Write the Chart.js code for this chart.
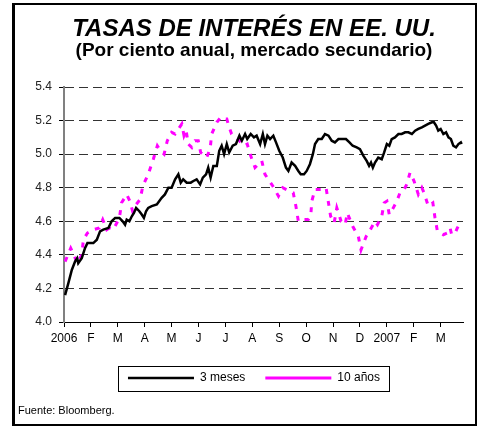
<!DOCTYPE html>
<html>
<head>
<meta charset="utf-8">
<script src="https://cdn.jsdelivr.net/npm/chart.js@4/dist/chart.umd.min.js"></script>
<style>
  body { margin: 0; background: #fff; }
  #marco { position: absolute; left: 12px; top: 3px; width: 460px; height: 419px; border: 2px solid #000; border-left-width: 3px; }
  #fuente { position: absolute; left: 18px; top: 404px; font: 11px "Liberation Sans", Arial, sans-serif; color: #000; }
  canvas { position: absolute; left: 0; top: 0; }
</style>
</head>
<body>
<div id="marco"></div>
<canvas id="grafico" width="485" height="426"></canvas>
<div id="fuente">Fuente: Bloomberg.</div>
<script>
// etiquetas del eje x (una por mes, desde enero 2006)
const meses = ['2006','F','M','A','M','J','J','A','S','O','N','D','2007','F','M'];

// 3 meses: posicion en meses desde 1-ene-2006, y tasa
const x3m = [0.04,0.16,0.29,0.41,0.49,0.53,0.66,0.78,0.87,0.97,1.09,1.22,1.34,1.46,1.65,1.77,1.90,2.06,2.18,2.27,2.33,2.43,2.52,2.60,2.68,2.80,2.89,2.97,3.05,3.13,3.26,3.45,3.63,3.75,3.88,4.00,4.13,4.25,4.34,4.43,4.56,4.71,4.81,4.93,5.06,5.16,5.28,5.36,5.45,5.55,5.68,5.77,5.86,5.95,6.05,6.14,6.27,6.39,6.52,6.61,6.73,6.81,6.94,7.06,7.16,7.29,7.39,7.47,7.56,7.66,7.78,7.88,8.00,8.13,8.25,8.34,8.46,8.59,8.71,8.80,8.92,9.02,9.14,9.25,9.33,9.45,9.58,9.70,9.83,9.95,10.07,10.20,10.32,10.48,10.61,10.73,10.88,11.00,11.13,11.25,11.34,11.41,11.48,11.56,11.68,11.81,11.90,12.00,12.09,12.18,12.30,12.43,12.55,12.68,12.80,12.93,13.05,13.17,13.30,13.42,13.54,13.67,13.75,13.83,13.91,14.00,14.10,14.20,14.29,14.38,14.47,14.57,14.66,14.75,14.78];
const tasa3m = [4.16,4.23,4.31,4.36,4.38,4.35,4.38,4.44,4.47,4.47,4.47,4.49,4.54,4.55,4.56,4.60,4.62,4.62,4.60,4.58,4.61,4.60,4.63,4.65,4.68,4.66,4.64,4.62,4.66,4.68,4.69,4.70,4.74,4.76,4.80,4.80,4.85,4.88,4.83,4.85,4.83,4.83,4.84,4.85,4.82,4.86,4.88,4.92,4.86,4.93,4.93,5.02,5.05,5.00,5.06,5.01,5.05,5.06,5.11,5.08,5.12,5.09,5.12,5.10,5.11,5.06,5.12,5.06,5.11,5.09,5.11,5.07,5.02,4.98,4.92,4.90,4.95,4.93,4.90,4.88,4.88,4.90,4.94,5.00,5.06,5.09,5.09,5.12,5.11,5.08,5.07,5.09,5.09,5.09,5.07,5.05,5.04,5.03,4.99,4.96,4.93,4.95,4.92,4.95,4.98,4.97,5.01,5.06,5.05,5.09,5.10,5.12,5.12,5.13,5.13,5.12,5.14,5.15,5.16,5.17,5.18,5.19,5.19,5.17,5.14,5.15,5.12,5.13,5.10,5.09,5.05,5.04,5.06,5.07,5.06];

// 10 años
const x10a = [0.04,0.25,0.37,0.49,0.66,0.72,0.87,1.09,1.31,1.44,1.59,1.68,1.83,2.06,2.14,2.33,2.45,2.55,2.68,2.83,2.93,3.13,3.32,3.47,3.59,3.72,3.84,4.00,4.13,4.38,4.46,4.54,4.62,4.75,4.87,4.99,5.08,5.30,5.43,5.49,5.68,5.83,5.95,6.05,6.14,6.23,6.52,6.67,6.81,6.94,7.10,7.29,7.35,7.47,7.76,7.97,8.13,8.38,8.52,8.62,8.71,8.84,9.08,9.17,9.21,9.33,9.58,9.74,9.83,9.91,10.04,10.14,10.30,10.45,10.53,10.73,10.94,11.04,11.23,11.35,11.56,11.65,11.81,11.90,12.00,12.09,12.24,12.37,12.49,12.61,12.74,12.86,13.01,13.17,13.30,13.38,13.54,13.71,13.79,13.88,14.10,14.25,14.35,14.41,14.54,14.62,14.72];
const tasa10a = [4.36,4.44,4.40,4.35,4.40,4.49,4.53,4.55,4.56,4.61,4.55,4.56,4.55,4.62,4.71,4.76,4.72,4.66,4.70,4.73,4.81,4.88,4.97,5.05,5.02,5.00,5.08,5.13,5.12,5.18,5.11,5.14,5.06,5.04,5.08,5.08,5.01,4.98,5.03,5.12,5.19,5.22,5.21,5.21,5.16,5.12,5.08,5.05,5.06,4.99,4.92,4.95,4.96,4.88,4.81,4.75,4.80,4.78,4.77,4.69,4.60,4.61,4.61,4.63,4.72,4.79,4.79,4.80,4.71,4.63,4.59,4.68,4.60,4.58,4.65,4.57,4.51,4.43,4.51,4.54,4.60,4.58,4.63,4.71,4.72,4.64,4.68,4.72,4.77,4.78,4.82,4.89,4.84,4.76,4.80,4.77,4.69,4.71,4.62,4.54,4.52,4.53,4.56,4.52,4.53,4.56,4.59];

const fuente = '"Liberation Sans", Arial, sans-serif';

// marco alrededor de la leyenda
const marcoLeyenda = {
  id: 'marcoLeyenda',
  afterDraw(chart) {
    const cajas = chart.legend.legendHitBoxes;
    if (!cajas || !cajas.length) return;
    const a = cajas[0], b = cajas[cajas.length - 1];
    const ctx = chart.ctx;
    ctx.save();
    ctx.strokeStyle = '#000';
    ctx.lineWidth = 1;
    ctx.strokeRect(Math.round(a.left - 10) + 0.5, Math.round(a.top - 6) + 0.5, Math.round(b.left + b.width - a.left + 19), 25);
    ctx.restore();
  }
};

new Chart(document.getElementById('grafico'), {
  type: 'line',
  data: {
    datasets: [
      {
        label: '3 meses',
        data: x3m.map((x, i) => ({x: x, y: tasa3m[i]})),
        borderColor: '#000',
        backgroundColor: '#000',
        borderWidth: 2.5,
        pointRadius: 0,
        tension: 0
      },
      {
        label: '10 años',
        data: x10a.map((x, i) => ({x: x, y: tasa10a[i]})),
        borderColor: '#ff00ff',
        backgroundColor: '#ff00ff',
        borderWidth: 3,
        borderDash: [5, 7],
        borderCapStyle: 'butt',
        pointRadius: 0,
        tension: 0
      }
    ]
  },
  options: {
    responsive: false,
    animation: false,
    layout: { padding: { left: 45, right: 22, top: 0, bottom: 32 } },
    plugins: {
      title: {
        display: true,
        text: 'TASAS DE INTERÉS EN EE. UU.',
        color: '#000',
        font: { family: fuente, size: 24, weight: 'bold', style: 'italic', lineHeight: 1 },
        padding: { top: 17, bottom: 0 }
      },
      subtitle: {
        display: true,
        text: '(Por ciento anual, mercado secundario)',
        color: '#000',
        font: { family: fuente, size: 19, weight: 'bold', lineHeight: 1 },
        padding: { top: 0, bottom: 27 }
      },
      legend: {
        position: 'bottom',
        labels: {
          usePointStyle: true,
          pointStyle: 'line',
          pointStyleWidth: 66,
          color: '#000',
          font: { family: fuente, size: 12 },
          padding: 20
        }
      },
      tooltip: { enabled: false }
    },
    scales: {
      x: {
        type: 'linear',
        min: 0,
        max: 14.83,
        afterFit: (s) => { s.height = 30; },
        afterBuildTicks: (s) => { s.ticks = meses.map((m, i) => ({value: i})); },
        ticks: {
          callback: (v) => meses[v],
          color: '#000',
          font: { family: fuente, size: 12 },
          padding: 4,
          maxRotation: 0,
          autoSkip: false
        },
        grid: { drawOnChartArea: false, tickLength: 5, color: '#000' },
        border: { color: '#000', width: 1 }
      },
      y: {
        min: 4.0,
        max: 5.4,
        // eje angosto para que el titulo quede centrado como en el original;
        // las etiquetas se dibujan a la izquierda sin recortar
        afterFit: (s) => { s.width = 19; s._computeLabelArea = () => undefined; },
        ticks: {
          stepSize: 0.2,
          callback: (v) => v.toFixed(1),
          color: '#222',
          font: { family: fuente, size: 12 },
          padding: 7
        },
        grid: {
          color: (c) => c.tick.value === 4.0 ? 'rgba(0,0,0,0)' : '#333',
          tickColor: '#000',
          tickLength: 5,
          lineWidth: 1
        },
        border: { color: '#808080', width: 2, dash: [9, 5] }
      }
    }
  },
  plugins: [marcoLeyenda]
});
</script>
</body>
</html>
